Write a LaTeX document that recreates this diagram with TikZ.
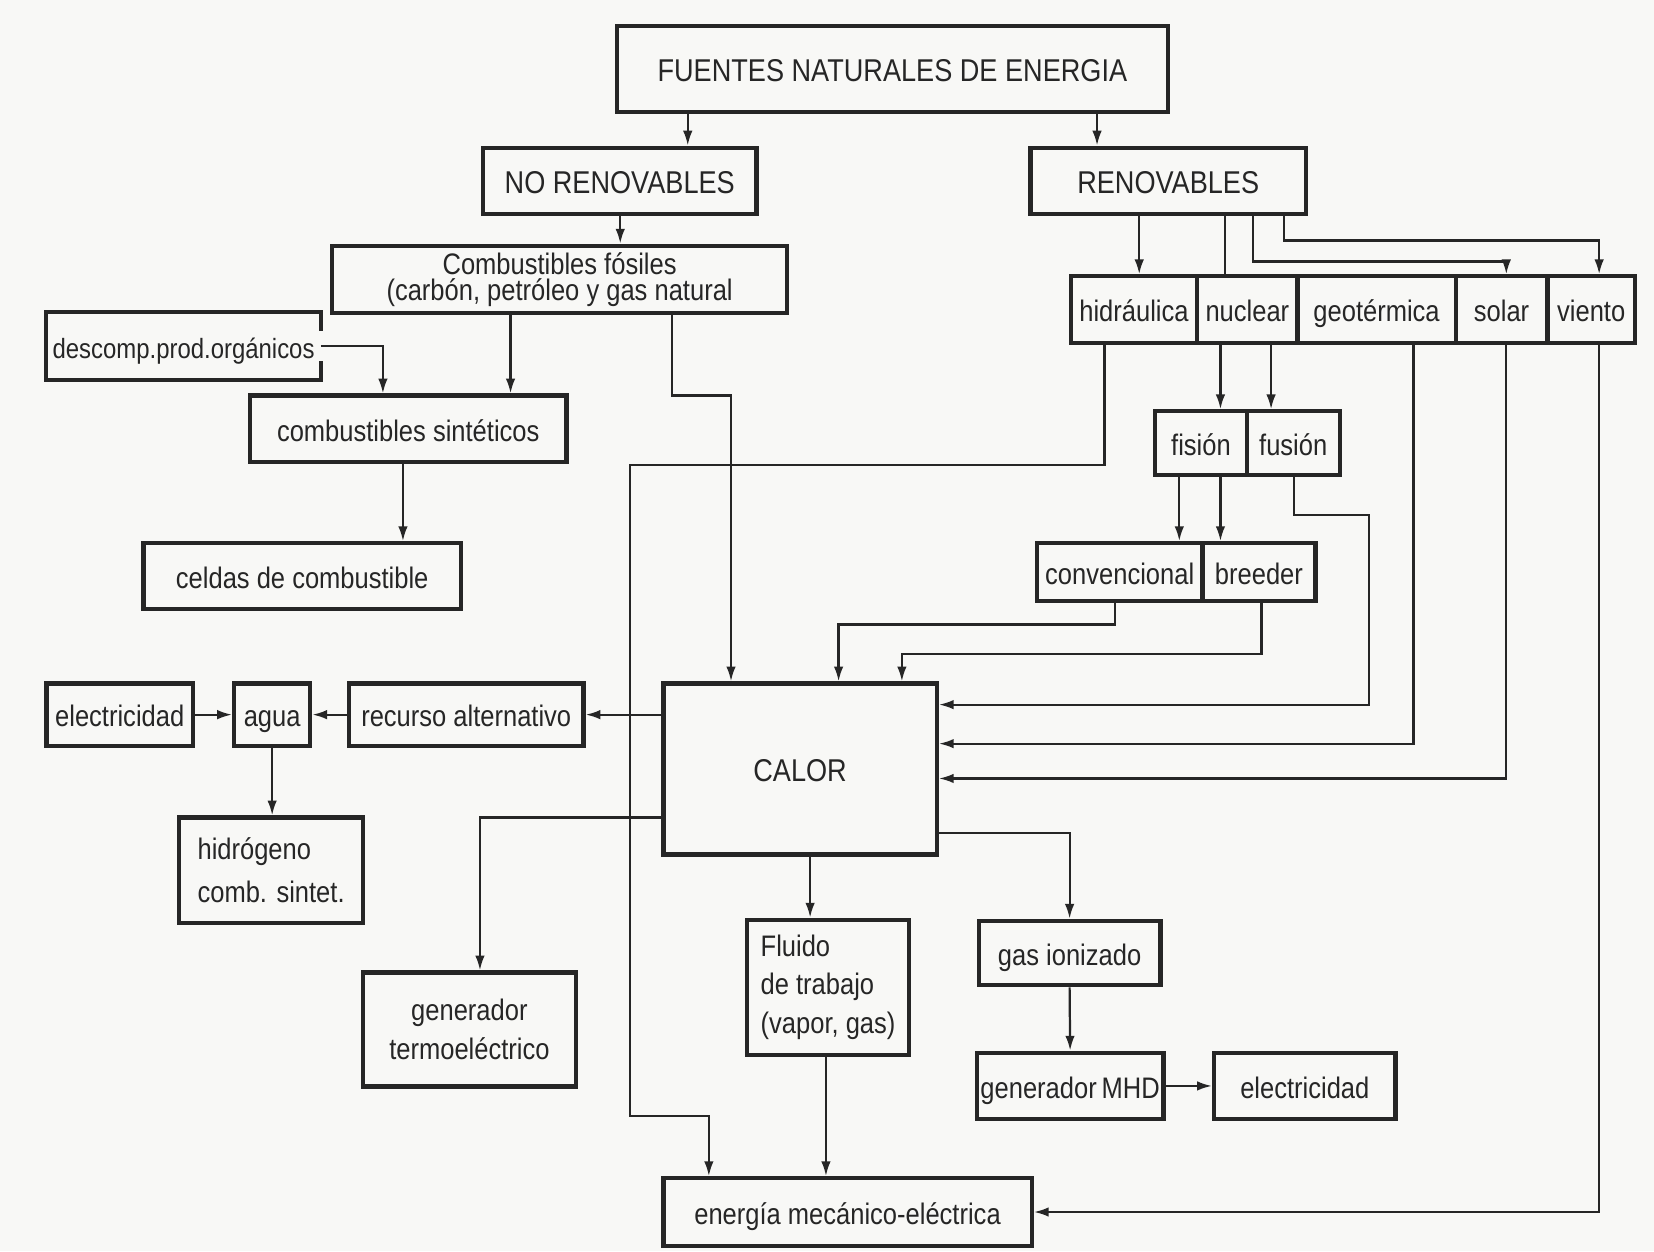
\documentclass[tikz,border=0pt]{standalone}
\usepackage{fontspec}
\setmainfont{Liberation Sans}[FakeStretch=0.86]
\usetikzlibrary{arrows.meta}
\definecolor{tinta}{RGB}{38,38,38}
\definecolor{papel}{RGB}{248,248,246}

\begin{document}
\begin{tikzpicture}[x=0.01cm,y=-0.01cm,line width=0.6pt,color=tinta,
  caja/.style={draw, line width=1.15pt, inner sep=1pt, align=center,
    text height=1.75ex, text depth=0.5ex, font=\fontsize{8}{9.5}\selectfont},
  varias/.style={text height=, text depth=},
  mayus/.style={font=\fontsize{8.5}{10}\selectfont},
  dim/.style 2 args={minimum width=#1cm, minimum height=#2cm},
  flecha/.style={-{Latex[length=1.4mm,width=0.9mm]}}]
  \fill[papel] (0,0) rectangle (1568,1186);
  \useasboundingbox (0,0) rectangle (1568,1186);

  % fuentes
  \node[caja, mayus, dim={5.22}{0.81}] (fuentes) at (846,65.5) {FUENTES NATURALES DE ENERGIA};
  \node[caja, mayus, dim={2.59}{0.63}] (norenov) at (587.5,171.5) {NO RENOVABLES};
  \node[caja, mayus, dim={2.61}{0.63}] (renov) at (1107.5,171.5) {RENOVABLES};

  % no renovables
  \node[caja, varias, dim={4.31}{0.64}] (fosiles) at (530.5,265) {Combustibles fósiles\\[-2.5pt](carbón, petróleo y gas natural};
  \node[caja, draw=none, dim={2.56}{0.61}, font=\fontsize{7.5}{9}\selectfont] (descomp) at (174,328) {descomp.prod.orgánicos};
  \draw[line width=1.15pt] ([yshift=-1.8mm]descomp.north east) -- (descomp.north east) -- (descomp.north west)
    -- (descomp.south west) -- (descomp.south east) -- ([yshift=1.8mm]descomp.south east);
  \node[caja, dim={3.00}{0.63}] (sinteticos) at (387,406.5) {combustibles sintéticos};
  \node[caja, dim={3.01}{0.62}] (celdas) at (286.5,546) {celdas de combustible};

  % renovables
  \node[caja, dim={1.20}{0.63}] (hidraulica) at (1075,293.5) {hidráulica};
  \node[caja, dim={0.95}{0.63}] (nuclear) at (1182.5,293.5) {nuclear};
  \node[caja, dim={1.50}{0.63}] (geotermica) at (1305,293.5) {geotérmica};
  \node[caja, dim={0.87}{0.63}] (solar) at (1423.5,293.5) {solar};
  \node[caja, dim={0.83}{0.63}] (viento) at (1508.5,293.5) {viento};
  \node[caja, dim={0.87}{0.60}] (fision) at (1138.5,420) {fisión};
  \node[caja, dim={0.88}{0.60}] (fusion) at (1226,420) {fusión};
  \node[caja, dim={1.57}{0.55}] (convencional) at (1061.5,542.5) {convencional};
  \node[caja, dim={1.07}{0.55}] (breeder) at (1193.5,542.5) {breeder};

  % calor y salidas
  \node[caja, mayus, dim={2.59}{1.62}] (calor) at (758.5,729) {CALOR};
  \node[caja, dim={2.22}{0.59}] (recurso) at (442,677.5) {recurso alternativo};
  \node[caja, dim={0.72}{0.59}] (agua) at (258,677.5) {agua};
  \node[caja, dim={1.39}{0.59}] (electricidad) at (113.5,677.5) {electricidad};
  \node[caja, varias, align=left, dim={1.74}{1.00}] (hidrogeno) at (257,825) {hidrógeno\\[2pt]comb. sintet.};
  \node[caja, varias, dim={2.02}{1.08}] (termo) at (445,976) {generador\\[1pt]termoeléctrico};
  \node[caja, varias, align=left, dim={1.54}{1.28}] (fluido) at (785,936) {Fluido\\[1pt]de trabajo\\[1pt](vapor, gas)};
  \node[caja, dim={1.72}{0.61}] (gas) at (1014,903.5) {gas ionizado};
  \node[caja, dim={1.73}{0.63}] (mhd) at (1014.5,1029.5) {generador\,MHD};
  \node[caja, dim={1.72}{0.63}] (electricidad2) at (1237,1029.5) {electricidad};
  \node[caja, dim={3.49}{0.64}] (energia) at (803.5,1149) {energía mecánico-eléctrica};

  % flechas de arriba
  \draw[flecha] (fuentes.south -| 652,0) -- (norenov.north -| 652,0);
  \draw[flecha] (fuentes.south -| 1040,0) -- (renov.north -| 1040,0);
  \draw[flecha] (norenov.south -| 588,0) -- (fosiles.north -| 588,0);
  \draw[flecha] (fosiles.south -| 484,0) -- (sinteticos.north -| 484,0);
  \draw[flecha] (descomp.east) -| (sinteticos.north -| 363,0);
  \draw[flecha] (sinteticos.south -| 382,0) -- (celdas.north -| 382,0);
  \draw[flecha] (fosiles.south -| 637,0) |- (693,375) -- (calor.north -| 693,0);

  % renovables
  \draw[flecha] (renov.south -| 1080,0) -- (hidraulica.north -| 1080,0);
  \draw (renov.south -| 1161,0) -- (nuclear.north -| 1161,0);
  \draw[flecha] (renov.south -| 1188,0) |- (1428,248) -- (solar.north -| 1428,0);
  \draw[flecha] (renov.south -| 1217,0) |- (1516,228) -- (viento.north -| 1516,0);
  \draw[flecha] (hidraulica.south -| 1047,0) |- (597,441) |- (672,1058) -- (energia.north -| 672,0);
  \draw[flecha] (nuclear.south -| 1157,0) -- (fision.north -| 1157,0);
  \draw[flecha] (nuclear.south -| 1205,0) -- (fusion.north -| 1205,0);
  \draw[flecha] (fision.south -| 1118,0) -- (convencional.north -| 1118,0);
  \draw[flecha] (fision.south -| 1157,0) -- (breeder.north -| 1157,0);
  \draw[flecha] (fusion.south -| 1227,0) |- (1298,488) |- (calor.east |- 0,668);
  \draw[flecha] (convencional.south -| 1057,0) |- (795,592) -- (calor.north -| 795,0);
  \draw[flecha] (breeder.south -| 1196,0) |- (855,620) -- (calor.north -| 855,0);
  \draw[flecha] (geotermica.south -| 1340,0) |- (calor.east |- 0,705);
  \draw[flecha] (solar.south -| 1428,0) |- (calor.east |- 0,738);
  \draw[flecha] (viento.south -| 1516,0) |- (energia.east);

  % desde calor
  \draw[flecha] (calor.west |- recurso.east) -- (recurso.east);
  \draw[flecha] (recurso.west) -- (agua.east);
  \draw[flecha] (electricidad.east) -- (agua.west);
  \draw[flecha] (agua.south) -- (hidrogeno.north -| agua.south);
  \draw[flecha] (calor.west |- 0,775) -| (termo.north -| 455,0);
  \draw[flecha] (calor.south -| 768,0) -- (fluido.north -| 768,0);
  \draw[flecha] (fluido.south -| 783,0) -- (energia.north -| 783,0);
  \draw[flecha] (calor.east |- 0,790) -| (gas.north);
  \draw[flecha] (gas.south) -- (mhd.north);
  \draw[flecha] (mhd.east) -- (electricidad2.west);
\end{tikzpicture}
\end{document}
